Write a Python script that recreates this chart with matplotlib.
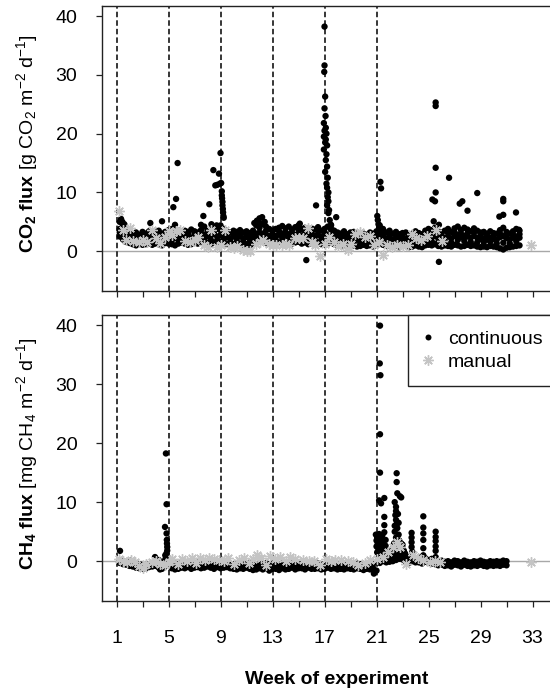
import numpy as np
import matplotlib
matplotlib.use('Agg')
import matplotlib.pyplot as plt
from matplotlib.lines import Line2D

plt.rcParams['font.family'] = ['Liberation Sans', 'DejaVu Sans']
plt.rcParams['mathtext.fontset'] = 'custom'
plt.rcParams['mathtext.rm'] = 'Liberation Sans'
plt.rcParams['mathtext.bf'] = 'Liberation Sans:bold'
plt.rcParams['mathtext.it'] = 'Liberation Sans:italic'
plt.rcParams['mathtext.default'] = 'regular'

# ---------------- data ----------------
event_weeks = [1, 5, 9, 13, 17, 21]
x_ticks = [1, 3, 5, 7, 9, 11, 13, 15, 17, 19, 21, 23, 25, 27, 29, 31, 33, 35]
x_labels = ['1', '', '5', '', '9', '', '13', '', '17', '', '21', '', '25', '', '29', '', '33', '']
y_ticks = [0, 10, 20, 30, 40]

band_week = [1.25, 1.5, 1.75, 2.0, 2.25, 2.5, 2.75, 3.0, 3.25, 3.5, 3.75, 4.0,
             4.25, 4.5, 4.75, 5.0, 5.25, 5.5, 5.75, 6.0, 6.25, 6.5, 6.75, 7.0,
             7.25, 7.5, 7.75, 8.0, 8.25, 8.5, 8.75, 9.0, 9.25, 9.5, 9.75, 10.0,
             10.25, 10.5, 10.75, 11.0, 11.25, 11.5, 11.75, 12.0, 12.25, 12.5, 12.75, 13.0,
             13.25, 13.5, 13.75, 14.0, 14.25, 14.5, 14.75, 15.0, 15.25, 15.5, 15.75, 16.0,
             16.25, 16.5, 16.75, 17.0, 17.25, 17.5, 17.75, 18.0, 18.25, 18.5, 18.75, 19.0,
             19.25, 19.5, 19.75, 20.0, 20.25, 20.5, 20.75, 21.0, 21.25, 21.5, 21.75, 22.0,
             22.25, 22.5, 22.75, 23.0, 23.25, 23.5, 23.75, 24.0, 24.25, 24.5, 24.75, 25.0,
             25.25, 25.5, 25.75, 26.0, 26.25, 26.5, 26.75, 27.0, 27.25, 27.5, 27.75, 28.0,
             28.25, 28.5, 28.75, 29.0, 29.25, 29.5, 29.75, 30.0, 30.25, 30.5, 30.75, 31.0,
             31.25, 31.5, 31.75, 32.0]

# CO2 continuous: dense band (several readings per time slot)
co2_band_hi = [5.0, 4.4, 3.6, 3.3, 3.0, 3.2, 2.8, 3.3, 3.0, 3.4, 2.9, 3.2,
               3.5, 3.0, 3.3, 3.6, 3.8, 3.3, 3.6, 3.2, 3.5, 3.3, 3.7, 3.4,
               3.2, 3.6, 4.2, 3.5, 3.6, 4.0, 3.8, 4.4, 3.8, 3.4, 3.2, 3.5,
               3.3, 3.6, 3.2, 3.4, 3.1, 3.5, 4.4, 4.8, 4.6, 4.2, 3.8, 3.5,
               3.8, 4.0, 4.3, 3.9, 4.2, 3.7, 4.1, 4.4, 3.8, 4.0, 3.6, 3.9,
               3.7, 4.1, 3.5, 3.8, 4.2, 4.4, 3.5, 3.2, 3.0, 3.4, 2.9, 3.2,
               3.3, 2.9, 3.1, 3.0, 2.8, 3.2, 3.0, 3.4, 4.4, 3.8, 3.2, 3.5,
               3.0, 3.3, 2.9, 3.1, 3.2, 2.8, 3.0, 3.4, 3.1, 2.9, 3.5, 3.8,
               3.6, 4.0, 3.4, 3.2, 3.5, 3.8, 3.3, 3.9, 4.2, 3.6, 4.0, 3.7,
               3.4, 3.9, 3.5, 3.2, 3.3, 3.0, 3.4, 3.1, 3.0, 3.6, 4.0, 3.3,
               3.0, 3.4, 3.8, 3.5]
co2_band_mid = [3.8, 3.2, 2.6, 2.4, 2.2, 2.4, 2.1, 2.3, 2.0, 2.4, 2.2, 2.5,
                2.3, 2.1, 2.6, 2.4, 2.5, 2.3, 2.6, 2.2, 2.4, 2.6, 2.3, 2.5,
                2.3, 2.5, 2.8, 2.6, 2.7, 2.9, 2.5, 2.8, 2.6, 2.4, 2.2, 2.5,
                2.3, 2.5, 2.2, 2.4, 2.2, 2.4, 3.0, 3.2, 3.0, 2.8, 2.6, 2.5,
                2.6, 2.8, 3.0, 2.7, 2.9, 2.6, 2.8, 3.0, 2.7, 2.8, 2.5, 2.7,
                2.6, 2.8, 2.4, 2.6, 2.8, 3.0, 2.5, 2.2, 2.1, 2.3, 2.0, 2.2,
                2.2, 2.0, 2.1, 2.0, 1.9, 2.1, 2.0, 2.3, 2.8, 2.5, 2.2, 2.3,
                2.0, 2.2, 1.9, 2.1, 2.1, 1.9, 2.0, 2.2, 2.0, 1.9, 2.3, 2.5,
                2.4, 2.6, 2.2, 2.1, 2.3, 2.5, 2.2, 2.6, 2.8, 2.4, 2.6, 2.5,
                2.3, 2.6, 2.3, 2.1, 2.2, 2.0, 2.3, 2.1, 2.0, 2.4, 2.6, 2.2,
                2.0, 2.3, 2.5, 2.3]
co2_band_lo = [2.5, 2.0, 1.6, 1.4, 1.2, 1.0, 1.3, 1.1, 1.2, 1.4, 1.1, 1.3,
               1.2, 1.0, 1.4, 1.3, 1.2, 1.0, 1.3, 1.5, 1.3, 1.1, 1.2, 1.4,
               1.3, 1.5, 1.2, 1.4, 1.2, 1.5, 1.3, 1.6, 1.4, 1.2, 1.0, 1.2,
               1.1, 1.3, 1.0, 1.2, 1.0, 1.2, 1.5, 1.7, 1.6, 1.4, 1.3, 1.2,
               1.3, 1.5, 1.4, 1.2, 1.4, 1.3, 1.5, 1.6, 1.3, 1.5, 1.2, 1.4,
               1.3, 1.5, 1.2, 1.1, 1.3, 1.5, 1.2, 1.0, 0.9, 1.1, 0.8, 1.0,
               1.0, 0.8, 0.9, 1.1, 0.9, 1.0, 0.8, 1.1, 1.3, 1.1, 0.9, 1.0,
               0.8, 1.0, 0.7, 0.9, 0.9, 0.7, 0.8, 1.0, 0.8, 0.7, 1.0, 1.1,
               1.0, 1.2, 0.9, 0.8, 1.0, 0.9, 0.8, 1.1, 1.0, 0.8, 0.9, 1.1,
               0.9, 1.0, 0.8, 0.7, 0.8, 0.7, 0.9, 0.8, 0.7, 0.5, 0.3, 0.6,
               0.7, 0.8, 0.9, 1.0]
co2_band_alt = [3.2, 3.8, 2.1, 2.9, 1.7, 2.8, 1.7, 2.8, 1.6, 2.9, 1.7, 2.9,
                1.75, 2.55, 2.0, 3.0, 1.85, 2.8, 1.95, 2.7, 1.85, 2.95, 1.75, 2.95,
                1.8, 3.05, 2.0, 3.05, 1.95, 3.45, 1.9, 3.6, 2.0, 2.9, 1.6, 3.0,
                1.7, 3.05, 1.6, 2.9, 1.6, 2.95, 2.25, 4.0, 2.3, 3.5, 1.95, 3.0,
                1.95, 3.4, 2.2, 3.3, 2.15, 3.15, 2.15, 3.7, 2.0, 3.4, 1.85, 3.3,
                1.95, 3.45, 1.8, 3.2, 2.05, 3.7, 1.85, 2.7, 1.5, 2.85, 1.4, 2.7,
                1.6, 2.45, 1.5, 2.5, 1.4, 2.65, 1.4, 2.85, 2.05, 3.15, 1.55, 2.9,
                1.4, 2.75, 1.3, 2.6, 1.5, 2.35, 1.4, 2.8, 1.4, 2.4, 1.65, 3.15,
                1.7, 3.3, 1.55, 2.65, 1.65, 3.15, 1.5, 3.25, 1.9, 3.0, 1.75, 3.1,
                1.6, 3.25, 1.55, 2.65, 1.5, 2.5, 1.6, 2.6, 1.35, 3.0, 1.45, 2.75,
                1.35, 2.85, 1.7, 2.9]

# CO2 continuous: peaks and isolated readings
co2_spk_week = [1.35, 1.45, 1.6, 1.7, 3.6, 4.5,
                5.37, 5.58, 5.7, 5.5,
                7.5, 7.68, 8.14, 8.45, 8.6, 8.75, 8.88, 9.0, 8.95, 9.05, 9.1, 9.1,
                9.12, 9.15, 9.15, 9.18, 9.2, 9.22, 9.25, 8.3, 8.7,
                11.8, 12.0, 12.2, 12.4, 11.6,
                15.1, 15.6, 16.35,
                17.0, 17.0, 16.98, 17.05, 17.0, 17.08,
                16.95, 17.1, 17.0, 17.15, 16.95, 17.1, 17.05, 17.2, 16.95, 17.15, 17.1,
                17.2, 17.05, 17.25, 17.15, 17.2, 17.3, 17.25, 17.3, 17.2, 17.35, 17.3,
                17.4, 17.5, 17.6, 17.9,
                21.06, 21.1, 21.15, 21.2, 21.3, 21.35, 21.25,
                25.55, 25.55, 25.55, 26.58, 25.55, 25.3, 25.5, 25.4, 25.8, 25.8,
                27.4, 27.6, 28.0, 28.75, 30.75, 30.75, 30.45, 30.75, 31.73, 31.96]
co2_spk_val = [5.5, 5.0, 4.6, 4.2, 4.8, 5.1,
               7.5, 8.9, 15.0, 4.5,
               4.5, 6.0, 8.0, 13.8, 11.2, 11.3, 13.2, 16.7, 11.5, 11.6, 10.2, 9.5,
               9.0, 8.4, 7.8, 7.2, 6.6, 6.0, 5.7, 4.6, 4.4,
               5.2, 5.6, 5.8, 5.0, 4.8,
               4.7, -1.5, 7.8,
               38.2, 31.6, 30.5, 26.3, 24.3, 23.0,
               21.8, 21.0, 20.5, 20.0, 19.5, 19.0, 18.5, 18.0, 17.3, 16.5, 15.5,
               14.4, 13.5, 12.5, 11.5, 10.8, 10.0, 9.2, 8.5, 7.8, 7.0, 6.5,
               5.3, 4.5, 3.6, 5.8,
               6.0, 5.3, 4.6, 4.0, 11.8, 10.7, 3.6,
               25.3, 24.7, 14.2, 12.5, 10.0, 8.8, 8.5, 5.1, 4.5, -1.8,
               8.1, 8.5, 6.9, 9.9, 8.9, 8.5, 5.9, 6.2, 6.6, 3.65]

# CO2 manual
co2_man_week = [1.2, 1.5, 1.7, 2.0, 2.3, 2.7, 3.0, 3.35, 3.7, 4.0,
                4.35, 4.7, 5.0, 5.3, 5.6, 5.9, 6.3, 6.65, 7.0, 7.3,
                7.7, 8.0, 8.3, 8.7, 9.0, 9.35, 9.7, 10.0, 10.3, 10.7,
                11.0, 11.3, 11.7, 12.0, 12.3, 12.7, 13.0, 13.3, 13.7, 14.0,
                14.3, 14.7, 15.0, 15.35, 15.75, 16.0, 16.3, 16.65, 17.0, 17.35,
                17.7, 18.0, 18.4, 18.8, 19.0, 19.35, 19.7, 20.1, 20.5, 20.8,
                21.2, 21.5, 21.8, 22.2, 22.6, 23.0, 23.4, 23.7, 24.0, 24.4,
                24.9, 25.55, 26.0, 32.9]
co2_man_val = [6.8, 3.7, 2.0, 3.9, 1.8, 1.5, 2.0, 1.6, 3.6, 2.2,
               1.4, 2.5, 3.4, 2.8, 3.4, 3.6, 1.7, 1.5, 2.0, 2.4,
               1.0, 0.8, 3.6, 0.8, 1.0, 3.6, 0.8, 0.6, 0.9, 0.3,
               0.1, 0.0, 1.2, 1.6, 2.0, 1.3, 1.1, 1.0, 1.1, 1.3,
               1.1, 2.3, 2.2, 2.3, 3.9, 1.5, 1.0, -0.8, 1.3, 2.5,
               1.5, 0.9, 1.3, 0.2, 1.2, 3.0, 3.2, 2.4, 2.6, 1.1,
               1.5, -0.6, 1.0, 0.8, 1.1, 0.9, 1.0, 3.0, 2.2, 2.0,
               2.6, 3.65, 1.8, 1.1]

# CH4 continuous: dense band (upper and lower readings per time slot, to week 31)
ch4_band_hi = [0.2, 0.0, -0.1, 0.1, -0.2, -0.4, -0.5, -0.6, -0.7, -0.5, -0.3, 0.0,
               0.2, -0.2, 0.3, 0.5, -0.3, -0.4, -0.5, -0.3, -0.4, -0.2, -0.5, -0.3,
               -0.2, -0.4, -0.3, -0.1, -0.3, -0.5, -0.2, -0.4, -0.3, -0.2, -0.4, -0.5,
               -0.6, -0.4, -0.5, -0.3, -0.4, -0.6, -0.5, -0.3, -0.5, -0.3, -0.6, -0.4,
               -0.5, -0.7, -0.4, -0.6, -0.5, -0.3, -0.6, -0.4, -0.4, -0.5, -0.3, -0.6,
               -0.5, -0.4, -0.6, -0.5, -0.3, -0.5, -0.4, -0.6, -0.5, -0.6, -0.4, -0.5,
               -0.6, -0.4, -0.5, -0.7, -0.5, -0.6, -0.4, -0.2, 0.5, 0.8, 0.6, 0.4,
               0.6, 0.9, 1.2, 1.0, 0.8, 0.5, 0.7, 0.4, 0.6, 0.3, 0.5, 0.2,
               0.4, 0.2, 0.0, 0.1, -0.1, 0.0, -0.2, 0.1, 0.0, -0.2, 0.1, -0.1,
               -0.2, 0.0, -0.1, 0.1, -0.1, -0.2, 0.0, -0.1, 0.0, -0.1, 0.1, 0.0]
ch4_band_lo = [-0.3, -0.5, -0.6, -0.8, -0.9, -1.1, -1.2, -1.3, -1.2, -1.0, -0.9, -0.8,
               -1.1, -1.3, -0.9, -0.6, -1.2, -1.4, -1.3, -1.1, -1.2, -1.0, -1.3, -1.1,
               -1.0, -1.2, -1.1, -0.9, -1.1, -1.3, -1.0, -1.2, -1.1, -1.0, -1.2, -1.3,
               -1.4, -1.2, -1.3, -1.1, -1.3, -1.5, -1.4, -1.2, -1.4, -1.2, -1.6, -1.3,
               -1.3, -1.5, -1.2, -1.4, -1.3, -1.1, -1.4, -1.2, -1.2, -1.4, -1.1, -1.3,
               -1.3, -1.2, -1.4, -1.3, -1.1, -1.3, -1.2, -1.4, -1.3, -1.4, -1.2, -1.3,
               -1.4, -1.2, -1.3, -1.5, -1.3, -1.4, -1.2, -1.6, -0.3, 0.0, -0.2, -0.1,
               0.0, 0.2, 0.4, 0.3, -0.1, -0.3, 0.0, -0.2, -0.2, -0.4, -0.1, -0.3,
               -0.4, -0.5, -0.7, -0.6, -0.8, -0.7, -0.9, -0.6, -0.7, -0.9, -0.6, -0.8,
               -0.9, -0.7, -0.8, -0.6, -0.8, -0.9, -0.7, -0.8, -0.7, -0.8, -0.6, -0.7]

# CH4 continuous: peaks and isolated readings
ch4_spk_week = [1.27, 3.96, 4.35,
                4.8, 4.85, 4.73, 4.85, 4.87, 4.88, 4.9, 4.9, 4.85, 4.75, 4.9,
                21.27, 21.25, 21.3, 21.27, 21.27, 21.2, 21.35, 21.6, 21.6, 21.6,
                20.95, 21.0, 21.0, 21.05, 21.05, 21.1, 21.15, 21.2, 21.2, 21.3, 21.35,
                21.4, 21.45, 21.5, 21.55, 21.6, 21.6, 21.7, 21.7, 21.75, 21.8, 21.9,
                22.0, 22.1, 22.2,
                22.55, 22.55, 22.6, 22.8, 22.9, 22.4, 22.5, 22.5, 22.45, 22.5, 22.55,
                22.6, 22.4, 22.7, 22.5, 22.75, 22.35, 22.6, 22.7, 22.65, 22.4, 22.9,
                23.0, 23.1, 23.2, 23.3, 23.0, 22.3, 22.2,
                23.7, 23.7, 23.7, 23.7, 23.75, 23.8,
                24.6, 24.6, 24.6, 24.6, 24.6, 24.6,
                25.55, 25.55, 25.55, 25.55, 25.55, 25.55,
                20.8]
ch4_spk_val = [1.75, 0.7, -1.4,
               18.25, 9.65, 5.8, 4.7, 3.6, 3.0, 2.4, 1.8, 1.35, 1.0, 0.5,
               39.9, 33.5, 31.5, 21.5, 15.0, 10.3, 9.8, 10.7, 7.5, 6.1,
               4.5, 3.5, 2.5, 1.5, 4.0, 3.0, 2.0, 1.0, 4.6, 3.8, 2.8,
               1.8, 4.4, 3.2, 2.2, 1.2, 4.9, 3.6, 2.6, 1.5, 0.8, 0.6,
               0.5, 1.0, 2.0,
               14.9, 13.4, 11.5, 11.0, 10.8, 10.0, 9.2, 8.5, 7.8, 7.0, 6.3,
               5.6, 5.0, 4.5, 4.0, 3.5, 3.0, 2.5, 6.5, 8.0, 6.0, 3.0,
               2.3, 1.8, 1.3, 0.8, 2.8, 1.5, 0.9,
               4.8, 4.0, 3.2, 2.4, 1.6, 0.8,
               7.6, 5.7, 4.7, 3.6, 2.2, 1.0,
               5.0, 4.1, 3.4, 2.5, 1.75, 0.7,
               -2.1]

# CH4 manual
ch4_man_week = [1.2, 1.5, 1.8, 2.1, 2.4, 2.7, 3.0, 3.3, 3.7, 4.0,
                4.35, 4.7, 5.0, 5.3, 5.7, 6.0, 6.4, 6.8, 7.1, 7.4,
                7.8, 8.1, 8.5, 8.9, 9.3, 9.6, 10.0, 10.4, 10.8, 11.2,
                11.5, 11.8, 12.1, 12.5, 12.8, 13.2, 13.6, 14.0, 14.35, 14.7,
                15.35, 15.8, 16.2, 16.65, 17.1, 17.5, 17.8, 18.3, 18.8, 19.2,
                19.6, 20.1, 20.5, 21.0, 21.5, 21.9, 22.3, 22.55, 22.8, 23.3,
                23.8, 24.2, 24.6, 25.1, 25.5, 25.9, 32.9]
ch4_man_val = [0.3, 0.1, -0.2, 0.2, -0.1, -0.9, -1.1, -0.5, -0.2, 0.1,
               -0.4, -0.6, -0.2, 0.3, -0.5, 0.4, 0.1, 0.5, -0.3, 0.6,
               0.2, 0.5, 0.3, 0.2, 0.1, 0.6, -0.4, 0.2, 0.5, -0.3,
               0.4, 1.0, 0.6, -0.6, 0.9, 0.4, 0.7, 0.1, 0.7, 0.3,
               0.2, 0.0, 0.1, -0.7, 0.3, 0.1, 0.2, 0.2, 0.0, -0.2,
               -0.7, -0.3, 0.2, 0.3, 0.7, 1.6, 2.4, 3.3, 2.4, -0.4,
               1.0, 0.5, 0.2, -0.1, 0.1, -0.1, -0.1]

# ---------------- figure ----------------
MAN_COLOR = '#c4c4c4'
STAR = (8, 2, 0)

fig = plt.figure(figsize=(5.5, 6.91), dpi=100)
ax1 = fig.add_axes([0.1849, 0.5789, 0.8542, 0.4124])
ax2 = fig.add_axes([0.1849, 0.1302, 0.8542, 0.4139])


def draw(ax, cx, cy, mx, my, bottom):
    ax.axhline(0, color='#a8a8a8', lw=1.0, zorder=1)
    for w in event_weeks:
        ax.axvline(w, color='black', lw=1.1, ls=(0, (3.6, 2.0)), zorder=2)
    ax.scatter(cx, cy, s=21, c='black', edgecolors='none', zorder=3)
    ax.plot(mx, my, ls='none', marker=STAR, ms=7.5, mec=MAN_COLOR, mew=1.0, zorder=4)
    ax.set_xlim(-0.14, 36.0)
    ax.set_ylim(-6.75, 41.7)
    ax.set_xticks(x_ticks)
    ax.set_yticks(y_ticks)
    ax.set_yticklabels([str(v) for v in y_ticks])
    if bottom:
        ax.set_xticklabels(x_labels)
    else:
        ax.set_xticklabels([''] * len(x_ticks))
    ax.tick_params(axis='both', direction='out', length=4.1, width=0.9,
                   labelsize=14, colors='#222222', labelcolor='black')
    ax.tick_params(axis='y', pad=13.5)
    ax.tick_params(axis='x', pad=16.5)
    for sp in ax.spines.values():
        sp.set_linewidth(1.0)
        sp.set_color('#222222')


co2_x = band_week * 4 + co2_spk_week
co2_y = co2_band_lo + co2_band_alt + co2_band_mid + co2_band_hi + co2_spk_val
ch4_x = band_week[:len(ch4_band_hi)] + band_week[:len(ch4_band_lo)] + ch4_spk_week
ch4_y = ch4_band_lo + ch4_band_hi + ch4_spk_val

draw(ax1, co2_x, co2_y, co2_man_week, co2_man_val, bottom=False)
draw(ax2, ch4_x, ch4_y, ch4_man_week, ch4_man_val, bottom=True)

fig.text(27 / 550, 0.7916,
         r'$\mathbf{CO_2}$ $\mathbf{flux}$ [g CO$_2$ m$^{-2}$ d$^{-1}$]',
         rotation=90, ha='center', va='center', fontsize=14)
fig.text(27 / 550, 0.3437,
         r'$\mathbf{CH_4}$ $\mathbf{flux}$ [mg CH$_4$ m$^{-2}$ d$^{-1}$]',
         rotation=90, ha='center', va='center', fontsize=14)
fig.text(337 / 550, 1 - 684 / 691, 'Week of experiment', ha='center', va='baseline',
         fontsize=14, fontweight='bold')

handles = [Line2D([], [], ls='none', marker='o', ms=4.3, mfc='black', mec='none'),
           Line2D([], [], ls='none', marker=STAR, ms=7.5, mec=MAN_COLOR, mew=1.0)]
leg = fig.legend(handles, ['continuous', 'manual'], loc='upper left',
                 bbox_to_anchor=(408 / 550, 1 - 315 / 691), bbox_transform=fig.transFigure,
                 fontsize=14, frameon=True, fancybox=False, edgecolor='#222222',
                 framealpha=1, borderpad=0.8, labelspacing=0.25, handlelength=0.5,
                 handletextpad=0.75, borderaxespad=0.0)
leg.get_frame().set_linewidth(1.0)

fig.savefig('out.png', dpi=100)
